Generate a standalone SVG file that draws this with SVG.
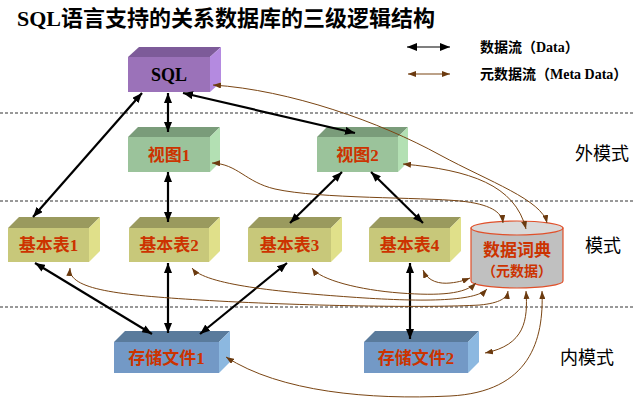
<svg xmlns="http://www.w3.org/2000/svg" width="634" height="404" viewBox="0 0 634 404">
<style>
.t{font-family:"Liberation Serif","Noto Sans CJK SC",serif;}
.title{font-size:22px;font-weight:bold;fill:#000;}
.leg{font-size:14px;font-weight:bold;fill:#000;}
.lvl{font-size:18px;fill:#000;}
.bx{font-size:17px;font-weight:bold;fill:#cc3300;text-anchor:middle;}
.sq{font-size:18px;font-weight:bold;fill:#000;text-anchor:middle;}
.dash{stroke:#333;stroke-width:1;stroke-dasharray:3,2;fill:none;}
.blk{stroke:#000;stroke-width:2.2;fill:none;marker-start:url(#ab);marker-end:url(#ab);}
.brn{stroke:#7a4513;stroke-width:1;fill:none;marker-start:url(#am);marker-end:url(#am);}
</style>
<defs>
<marker id="ab" viewBox="0 0 10 8" refX="10" refY="4" markerWidth="10" markerHeight="8" markerUnits="userSpaceOnUse" orient="auto-start-reverse"><path d="M0,0 L10,4 L0,8 Z" fill="#000"/></marker>
<marker id="am" viewBox="0 0 8 6" refX="8" refY="3" markerWidth="8" markerHeight="6" markerUnits="userSpaceOnUse" orient="auto-start-reverse"><path d="M0,0 L8,3 L0,6 Z" fill="#6b3a0f"/></marker>
</defs>
<rect width="634" height="404" fill="#fff"/>
<text class="t title" x="17" y="26">SQL语言支持的关系数据库的三级逻辑结构</text>

<g id="legend">
<line class="blk" x1="407" y1="47" x2="450" y2="47" style="stroke-width:1.2"/>
<text class="t leg" x="480" y="52">数据流（Data）</text>
<line class="brn" x1="408" y1="74" x2="450" y2="74" style="stroke-width:1.2"/>
<text class="t leg" x="480" y="79">元数据流（Meta Data）</text>
</g>

<g id="levels">
<line class="dash" x1="0" y1="113" x2="634" y2="113"/>
<line class="dash" x1="0" y1="201" x2="634" y2="201"/>
<line class="dash" x1="0" y1="307" x2="634" y2="307"/>
<text class="t lvl" x="575" y="160">外模式</text>
<text class="t lvl" x="585" y="252">模式</text>
<text class="t lvl" x="560" y="364">内模式</text>
</g>

<g id="sql">
<rect x="128" y="57" width="82" height="35" fill="#9b72b9"/>
<polygon points="128,57 139,47 221,47 210,57" fill="#7d5b99"/>
<polygon points="210,57 221,47 221,82 210,92" fill="#b48ae0"/>
<text class="t sq" x="169" y="81">SQL</text>
</g>

<g id="view1">
<rect x="128" y="137" width="82" height="35" fill="#9bc39b"/>
<polygon points="128,137 138,127 220,127 210,137" fill="#7a9c7a"/>
<polygon points="210,137 220,127 220,162 210,172" fill="#b3e0b3"/>
<text class="t bx" x="169" y="161">视图1</text>
</g>
<g id="view2">
<rect x="317" y="137" width="81" height="35" fill="#9bc39b"/>
<polygon points="317,137 327,127 408,127 398,137" fill="#7a9c7a"/>
<polygon points="398,137 408,127 408,162 398,172" fill="#b3e0b3"/>
<text class="t bx" x="357.5" y="161">视图2</text>
</g>

<g id="table1">
<rect x="8" y="228" width="81" height="34" fill="#c8c87a"/>
<polygon points="8,228 19,217 100,217 89,228" fill="#9a9a5e"/>
<polygon points="89,228 100,217 100,251 89,262" fill="#e0e08a"/>
<text class="t bx" x="48.5" y="251">基本表1</text>
</g>
<g id="table2">
<rect x="129" y="228" width="80" height="34" fill="#c8c87a"/>
<polygon points="129,228 140,217 220,217 209,228" fill="#9a9a5e"/>
<polygon points="209,228 220,217 220,251 209,262" fill="#e0e08a"/>
<text class="t bx" x="169" y="251">基本表2</text>
</g>
<g id="table3">
<rect x="248" y="228" width="83" height="34" fill="#c8c87a"/>
<polygon points="248,228 259,217 342,217 331,228" fill="#9a9a5e"/>
<polygon points="331,228 342,217 342,251 331,262" fill="#e0e08a"/>
<text class="t bx" x="289.5" y="251">基本表3</text>
</g>
<g id="table4">
<rect x="369" y="228" width="81" height="34" fill="#c8c87a"/>
<polygon points="369,228 380,217 461,217 450,228" fill="#9a9a5e"/>
<polygon points="450,228 461,217 461,251 450,262" fill="#e0e08a"/>
<text class="t bx" x="409.5" y="251">基本表4</text>
</g>

<g id="dict">
<path d="M471,228 V281 A46,7 0 0 0 563,281 V228 Z" fill="#c0c0c0" stroke="#e0502a" stroke-width="1.2"/>
<ellipse cx="517" cy="228" rx="46" ry="7" fill="#d9d9d9" stroke="#e0502a" stroke-width="1.2"/>
<text class="t bx" x="517" y="256">数据词典</text>
<text class="t bx" x="517" y="276" style="font-size:14px">（元数据）</text>
</g>

<g id="store1">
<rect x="114" y="342" width="105" height="31" fill="#7399c6"/>
<polygon points="114,342 125,331 230,331 219,342" fill="#5a7b9c"/>
<polygon points="219,342 230,331 230,362 219,373" fill="#8cb8e0"/>
<text class="t bx" x="166.5" y="364">存储文件1</text>
</g>
<g id="store2">
<rect x="364" y="342" width="104" height="31" fill="#7399c6"/>
<polygon points="364,342 375,331 479,331 468,342" fill="#5a7b9c"/>
<polygon points="468,342 479,331 479,362 468,373" fill="#8cb8e0"/>
<text class="t bx" x="416" y="364">存储文件2</text>
</g>

<g id="connectors">
<line class="blk" x1="142" y1="93" x2="33" y2="217"/>
<line class="blk" x1="168" y1="93" x2="168" y2="132"/>
<line class="blk" x1="183" y1="93" x2="355" y2="133"/>
<line class="blk" x1="168" y1="172" x2="168" y2="222"/>
<line class="blk" x1="342" y1="172" x2="290" y2="223"/>
<line class="blk" x1="371" y1="172" x2="423" y2="223"/>
<line class="blk" x1="35" y1="263" x2="152" y2="334"/>
<line class="blk" x1="168" y1="263" x2="168" y2="333"/>
<line class="blk" x1="287" y1="263" x2="200" y2="334"/>
<line class="blk" x1="410" y1="263" x2="410" y2="339"/>

<path class="brn" d="M213,85 C290,90 380,122 440,155 C490,182 542,200 547,223"/>
<path class="brn" d="M403,164 C470,170 515,185 526,229"/>
<path class="brn" d="M212,163 C238,164 245,182 275,189 C320,199 420,197 460,201 C490,204 502,212 503,223"/>
<path class="brn" d="M70,268 C68,290 120,295 200,300 C300,306 430,308 480,305 C500,303 507,298 508,291"/>
<path class="brn" d="M192,268 C205,285 280,292 350,297 C420,302 475,302 487,289"/>
<path class="brn" d="M312,268 C320,280 360,290 400,293 C440,296 465,294 476,283"/>
<path class="brn" d="M423,270 C428,282 440,284 450,283 C460,282 465,280 470,278"/>
<path class="brn" d="M526,291 C528,320 525,345 485,353"/>
<path class="brn" d="M542,291 C544,340 530,392 450,396 C370,400 280,392 226,357"/>
</g>
</svg>
